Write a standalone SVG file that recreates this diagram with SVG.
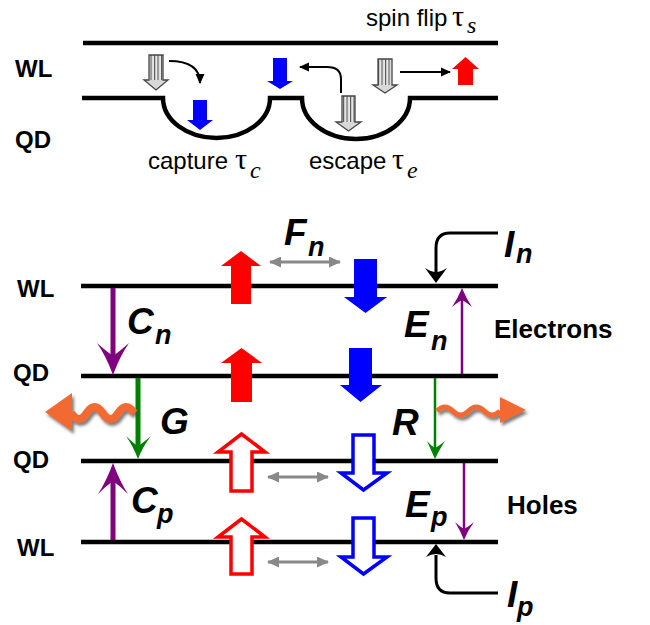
<svg xmlns="http://www.w3.org/2000/svg" width="650" height="625" viewBox="0 0 650 625">
<style>
.lvl{stroke:#000;stroke-width:4.5;fill:none}
.lbl{font-family:"Liberation Sans",Arial,sans-serif;font-weight:bold;font-size:24px;fill:#000}
.side{font-family:"Liberation Sans",Arial,sans-serif;font-weight:bold;font-size:26px;fill:#000}
.txt{font-family:"Liberation Sans",Arial,sans-serif;font-size:24px;fill:#000}
.tau{font-family:"Liberation Serif","Times New Roman",serif;font-size:30px;fill:#000}
.sub{font-family:"Liberation Serif","Times New Roman",serif;font-style:italic;font-size:24px;fill:#000}
.big{font-family:"Liberation Sans",Arial,sans-serif;font-weight:bold;font-style:italic;font-size:37px;fill:#000}
.bs{font-family:"Liberation Sans",Arial,sans-serif;font-weight:bold;font-style:italic;font-size:27px;fill:#000}
.blue{fill:#0000ff}
.red{fill:#ff0000}
.hred{fill:#fff;stroke:#ff0000;stroke-width:3.5}
.hblue{fill:#fff;stroke:#0000ff;stroke-width:3.5}
.thin{stroke:#000;stroke-width:2;fill:none}
.gray{stroke:#888;stroke-width:3;fill:none}
.purple{stroke:#800080;fill:none}
.pfill{fill:#800080}
.green{stroke:#008000;fill:none}
.gfill{fill:#008000}
.orange{stroke:#f26a30;fill:none}
.ofill{fill:#f26a30}
.cur{stroke:#000;stroke-width:3;fill:none}
.sout{fill:none;stroke:#444;stroke-width:1.3}
</style>
<defs>
<pattern id="stripe" width="3.5" height="10" patternUnits="userSpaceOnUse">
<rect width="3.5" height="10" fill="#e6e6e6"/>
<rect width="1.1" height="10" fill="#555"/>
</pattern>
<marker id="ah" markerUnits="userSpaceOnUse" markerWidth="10" markerHeight="10" viewBox="0 0 10 10" refX="9" refY="5" orient="auto">
<path d="M0,0.5 L10,5 L0,9.5 Z" fill="#000"/>
</marker>
<marker id="gh" markerUnits="userSpaceOnUse" markerWidth="12" markerHeight="11" viewBox="0 0 12 11" refX="11" refY="5.5" orient="auto-start-reverse">
<path d="M0,0 L12,5.5 L0,11 Z" fill="#888"/>
</marker>
<filter id="sh" x="-20%" y="-30%" width="140%" height="170%">
<feDropShadow dx="2" dy="3" stdDeviation="1.5" flood-color="#444" flood-opacity="0.7"/>
</filter>
</defs>

<!-- TOP PANEL -->
<g id="top-levels">
<path class="lvl" d="M83,43 H498"/>
<path class="lvl" d="M82,98 H163 A53.5 40 0 0 0 270 98 H302 A54 41 0 0 0 410 98 H498"/>
</g>
<g id="top-labels">
<text class="lbl" x="15" y="77">WL</text>
<text class="lbl" x="15" y="148">QD</text>
<text class="txt" x="366" y="26">spin flip</text>
<text class="tau" x="452" y="26">τ</text>
<text class="sub" x="467" y="33">s</text>
<text class="txt" x="148" y="169">capture</text>
<text class="tau" x="235" y="169">τ</text>
<text class="sub" x="250" y="178">c</text>
<text class="txt" x="309" y="169">escape</text>
<text class="tau" x="392" y="169">τ</text>
<text class="sub" x="407" y="178">e</text>
</g>
<g id="top-spins">
<g id="s1">
<rect x="149" y="55" width="14" height="25" fill="url(#stripe)"/>
<polygon points="144,80 168,80 156,90" fill="#d8d8d8"/>
<polygon class="sout" points="149,55 163,55 163,80 168,80 156,90 144,80 149,80"/>
</g>
<g id="s2">
<rect x="342" y="96" width="13" height="26" fill="url(#stripe)"/>
<polygon points="336,122 361,122 348.5,131" fill="#d8d8d8"/>
<polygon class="sout" points="342,96 355,96 355,122 361,122 348.5,131 336,122 342,122"/>
</g>
<g id="s3">
<rect x="378" y="59" width="14" height="26" fill="url(#stripe)"/>
<polygon points="373,85 397,85 385,93" fill="#d8d8d8"/>
<polygon class="sout" points="378,59 392,59 392,85 397,85 385,93 373,85 378,85"/>
</g>
<polygon id="b1" class="blue" points="193,100 207,100 207,120 213,120 200,130 187,120 193,120"/>
<polygon id="b2" class="blue" points="273,58 287,58 287,81 293,81 280,89 267,81 273,81"/>
<polygon id="r0" class="red" points="458,85 473,85 473,69 479,69 465.5,57 452,69 458,69"/>
</g>
<g id="top-connectors">
<path class="thin" d="M169,61 Q200,61 200,83" marker-end="url(#ah)"/>
<path class="thin" d="M341,93 V79 Q341,67 327,67 H300" marker-end="url(#ah)"/>
<path class="thin" d="M400,72 H450" marker-end="url(#ah)"/>
</g>

<!-- BOTTOM PANEL -->
<g id="levels">
<path class="lvl" d="M81,286 H498"/>
<path class="lvl" d="M81,376 H498"/>
<path class="lvl" d="M81,461 H498"/>
<path class="lvl" d="M81,542 H498"/>
</g>
<g id="level-labels">
<text class="lbl" x="17" y="297">WL</text>
<text class="lbl" x="13" y="381">QD</text>
<text class="lbl" x="13" y="468">QD</text>
<text class="lbl" x="17" y="556">WL</text>
<text class="side" x="494" y="338">Electrons</text>
<text class="side" x="507" y="514">Holes</text>
</g>
<g id="electron-spins">
<polygon class="red" points="231,304 251,304 251,266 261,266 241,251 221,266 231,266"/>
<polygon class="blue" points="354,259 377,259 377,297 387,297 365.5,313 344,297 354,297"/>
<polygon class="red" points="231,402 252,402 252,363 262,363 241.5,348 221,363 231,363"/>
<polygon class="blue" points="349,348 372,348 372,385 382,385 360.5,402 340,385 349,385"/>
</g>
<g id="hole-spins">
<polygon class="hred" points="231,491 252,491 252,452 265,452 241.5,434 218,452 231,452"/>
<polygon class="hblue" points="353,435 374,435 374,473 387,473 363.5,490 341,473 353,473"/>
<polygon class="hred" points="231,574 252,574 252,537 265,537 241.5,519 218,537 231,537"/>
<polygon class="hblue" points="353,518 374,518 374,557 387,557 363.5,574 341,557 353,557"/>
</g>
<g id="labels">
<text class="big" x="284" y="245">F</text><text class="bs" x="308" y="256">n</text>
<text class="big" x="504" y="257">I</text><text class="bs" x="516" y="263">n</text>
<text class="big" x="127" y="334">C</text><text class="bs" x="155" y="344">n</text>
<text class="big" x="404" y="337">E</text><text class="bs" x="431" y="350">n</text>
<text class="big" x="160" y="434">G</text>
<text class="big" x="392" y="435">R</text>
<text class="big" x="131" y="513">C</text><text class="bs" x="157" y="523">p</text>
<text class="big" x="405" y="517">E</text><text class="bs" x="431" y="526">p</text>
<text class="big" x="507" y="607">I</text><text class="bs" x="517" y="616">p</text>
</g>
<g id="connectors">
<path class="gray" d="M270,262 H340" marker-start="url(#gh)" marker-end="url(#gh)"/>
<path class="gray" d="M268,477 H328" marker-start="url(#gh)" marker-end="url(#gh)"/>
<path class="gray" d="M268,562 H328" marker-start="url(#gh)" marker-end="url(#gh)"/>
<!-- Cn -->
<path class="purple" stroke-width="5" d="M113,288 V358"/>
<path class="pfill" d="M113,375 Q106,356 97,343 Q106,351 113,356 Q120,351 129,343 Q120,356 113,375 Z"/>
<!-- Cp -->
<path class="purple" stroke-width="5" d="M113,540 V480"/>
<path class="pfill" d="M113,463 Q106,482 98,494 Q106,486 113,481 Q120,486 128,494 Q120,482 113,463 Z"/>
<!-- En -->
<path class="purple" stroke-width="2.5" d="M462,374 V300"/>
<path class="pfill" d="M462,288 Q458,298 452,307 Q458,302 462,300 Q466,302 472,307 Q466,298 462,288 Z"/>
<!-- Ep -->
<path class="purple" stroke-width="2.5" d="M464,463 V530"/>
<path class="pfill" d="M464,540 Q460,530 455,522 Q460,527 464,529 Q468,527 474,522 Q468,530 464,540 Z"/>
<!-- G -->
<path class="green" stroke-width="5" d="M138,378 V448"/>
<path class="gfill" d="M138,459 Q133,446 126,436 Q133,443 138,446 Q143,443 151,436 Q143,446 138,459 Z"/>
<!-- R -->
<path class="green" stroke-width="2.5" d="M435,378 V450"/>
<path class="gfill" d="M435,459 Q431,450 427,441 Q431,446 435,448 Q439,446 445,441 Q439,450 435,459 Z"/>
<!-- In -->
<path class="cur" d="M498,233 H450 Q436,233 436,248 V272"/>
<path d="M436,283 L425,268 Q431,272 436,272 Q441,272 447,268 Z" fill="#000"/>
<!-- Ip -->
<path class="cur" d="M498,593 H450 Q436,593 436,578 V555"/>
<path d="M436,544 L426,557 Q431,554 436,554 Q441,554 446,557 Z" fill="#000"/>
</g>
<g id="photon-left" filter="url(#sh)">
<path class="orange" stroke-width="8" d="M134,413 q-7.9,-12 -15.75,0 t-15.75,0 t-15.75,0 t-15.75,0"/>
<polygon class="ofill" points="45,412 72,393 72,431"/>
</g>
<g id="photon-right" filter="url(#sh)">
<path class="orange" stroke-width="5" d="M437,411 q7.9,-8 15.75,0 t15.75,0 t15.75,0 t15.75,0"/>
<polygon class="ofill" points="526,410 500,397 500,423"/>
</g>
</svg>
